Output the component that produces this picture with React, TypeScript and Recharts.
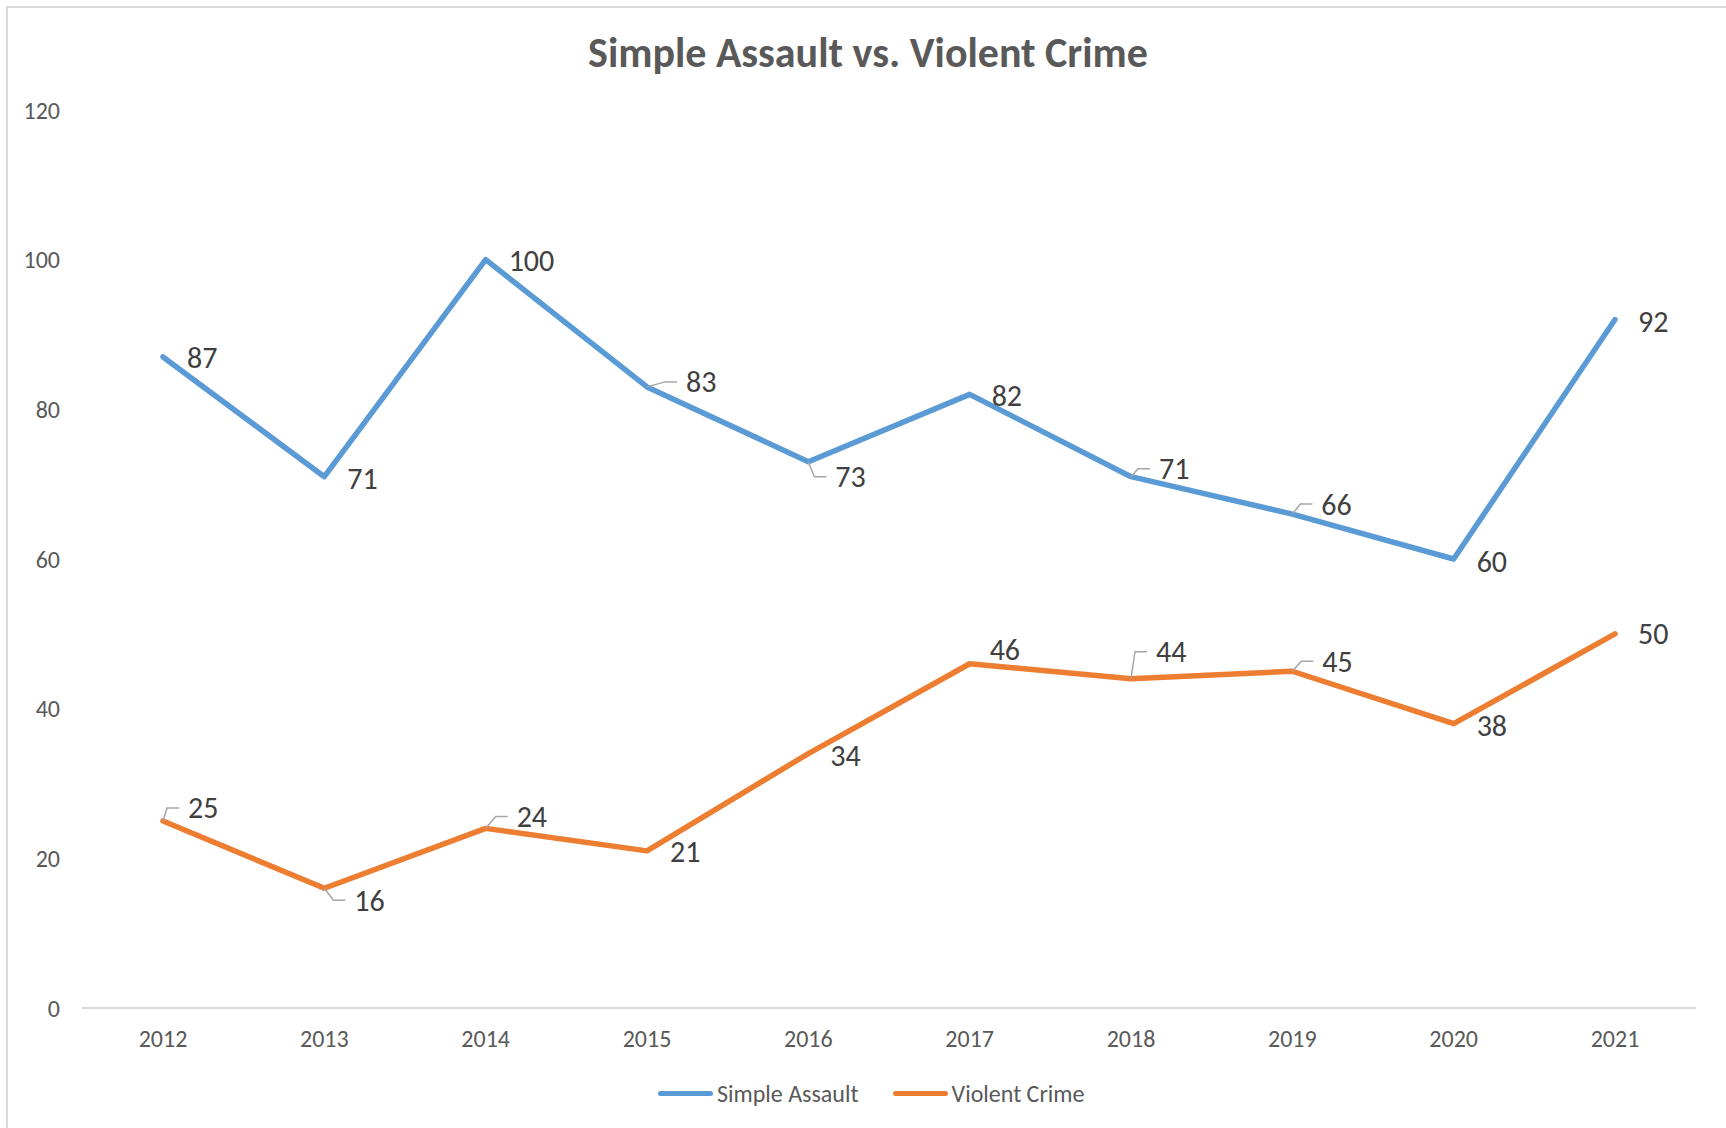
import React from 'react';
import { LineChart, Line, XAxis, YAxis, LabelList } from 'recharts';

const years = ['2012', '2013', '2014', '2015', '2016', '2017', '2018', '2019', '2020', '2021'];
const simpleAssault = [87, 71, 100, 83, 73, 82, 71, 66, 60, 92];
const violentCrime = [25, 16, 24, 21, 34, 46, 44, 45, 38, 50];
const yTicks = [0, 20, 40, 60, 80, 100, 120];
const seriesNames = ['Simple Assault', 'Violent Crime'];
const seriesColors = ['#5B9BD5', '#ED7D31'];

const data = years.map((year, i) => ({
  year,
  assault: simpleAssault[i],
  violent: violentCrime[i],
}));

// where each data label sits relative to its point (text start / text middle),
// and whether Excel drew a leader line for it
type LabelPos = { dx: number; dy: number; leader?: boolean };

const assaultLabelPos: LabelPos[] = [
  { dx: 24, dy: 1 },
  { dx: 23, dy: 2 },
  { dx: 23, dy: 1 },
  { dx: 39, dy: -5, leader: true },
  { dx: 27, dy: 15, leader: true },
  { dx: 22, dy: 1 },
  { dx: 28, dy: -8, leader: true },
  { dx: 29, dy: -10, leader: true },
  { dx: 23, dy: 2 },
  { dx: 23, dy: 2 },
];

const violentLabelPos: LabelPos[] = [
  { dx: 25, dy: -13, leader: true },
  { dx: 30, dy: 12, leader: true },
  { dx: 31, dy: -12, leader: true },
  { dx: 23, dy: 1 },
  { dx: 22, dy: 2 },
  { dx: 20, dy: -14 },
  { dx: 25, dy: -27, leader: true },
  { dx: 30, dy: -10, leader: true },
  { dx: 23, dy: 2 },
  { dx: 23, dy: 0 },
];

const FONT = 'Carlito, Calibri, Lato, sans-serif';

function makeLabel(pos: LabelPos[]) {
  return (props: any) => {
    const { x, y, value, index } = props;
    const p = pos[index] || { dx: 22, dy: 0 };
    const tx = x + p.dx;
    const ty = y + p.dy;
    return (
      <g>
        {p.leader && (
          <polyline
            points={`${x},${y} ${tx - 21},${ty} ${tx - 9},${ty}`}
            fill="none"
            stroke="#A6A6A6"
            strokeWidth={1.5}
          />
        )}
        <text
          x={tx}
          y={ty}
          dominantBaseline="central"
          textAnchor="start"
          fill="#404040"
          fontSize={30}
          fontFamily={FONT}
        >
          {value}
        </text>
      </g>
    );
  };
}

export default function App() {
  return (
    <div
      style={{
        position: 'absolute',
        left: 0,
        top: 0,
        width: 1726,
        height: 1128,
        background: 'white',
        overflow: 'hidden',
        fontFamily: FONT,
      }}
    >
      <div
        style={{
          position: 'absolute',
          left: 6,
          top: 6,
          width: 1740,
          height: 1140,
          border: '2px solid #D9D9D9',
          boxSizing: 'border-box',
        }}
      />
      <div
        style={{
          position: 'absolute',
          left: 868,
          top: 32,
          transform: 'translateX(-50%)',
          fontSize: 42,
          lineHeight: '42px',
          fontWeight: 700,
          color: '#595959',
          whiteSpace: 'nowrap',
        }}
      >
        Simple Assault vs. Violent Crime
      </div>

      <div style={{ position: 'absolute', left: 0, top: 0 }}>
        <LineChart
          width={1726}
          height={1128}
          data={data}
          margin={{ top: 110, right: 30, bottom: 80, left: 0 }}
        >
          <XAxis
            dataKey="year"
            interval={0}
            height={40}
            padding={{ left: 81, right: 81 }}
            axisLine={{ stroke: '#D9D9D9', strokeWidth: 2 }}
            tickLine={false}
            tickSize={0}
            tickMargin={22}
            tick={{ fill: '#595959', fontSize: 24, fontFamily: FONT }}
          />
          <YAxis
            domain={[0, 120]}
            ticks={yTicks}
            width={82}
            axisLine={false}
            tickLine={false}
            tickSize={0}
            tickMargin={22}
            tick={{ fill: '#595959', fontSize: 24, fontFamily: FONT }}
          />
          <Line
            type="linear"
            dataKey="assault"
            name={seriesNames[0]}
            stroke={seriesColors[0]}
            strokeWidth={5.5}
            strokeLinejoin="round"
            strokeLinecap="round"
            dot={false}
            activeDot={false}
            isAnimationActive={false}
          >
            <LabelList dataKey="assault" content={makeLabel(assaultLabelPos)} />
          </Line>
          <Line
            type="linear"
            dataKey="violent"
            name={seriesNames[1]}
            stroke={seriesColors[1]}
            strokeWidth={5.5}
            strokeLinejoin="round"
            strokeLinecap="round"
            dot={false}
            activeDot={false}
            isAnimationActive={false}
          >
            <LabelList dataKey="violent" content={makeLabel(violentLabelPos)} />
          </Line>
        </LineChart>
      </div>

      <div
        style={{
          position: 'absolute',
          left: 658,
          top: 1079,
          height: 28,
          display: 'flex',
          alignItems: 'center',
        }}
      >
        {seriesNames.map((name, i) => (
          <div
            key={name}
            style={{ display: 'flex', alignItems: 'center', marginRight: 34 }}
          >
            <div
              style={{
                width: 55,
                height: 5,
                borderRadius: 3,
                background: seriesColors[i],
                marginRight: 4,
              }}
            />
            <span style={{ fontSize: 24, color: '#595959' }}>{name}</span>
          </div>
        ))}
      </div>
    </div>
  );
}
